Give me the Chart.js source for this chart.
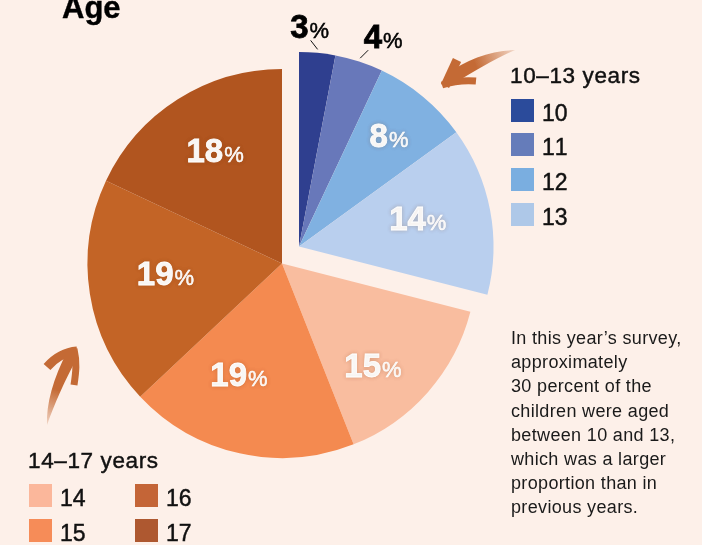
<!DOCTYPE html>
<html>
<head>
<meta charset="utf-8">
<script src="https://cdn.jsdelivr.net/npm/chart.js@4"></script>
<style>
html,body{margin:0;padding:0;background:#fdf0e9;}
body{width:702px;height:545px;position:relative;overflow:hidden;font-family:"Liberation Sans",sans-serif;color:#111;}
canvas{position:absolute;left:0;top:0;}
.t{position:absolute;white-space:nowrap;}
.sw{position:absolute;width:23px;height:23px;}
#title{font-size:31px;font-weight:700;color:#000;-webkit-text-stroke:.4px #000;}
.h{font-size:22.5px;-webkit-text-stroke:.45px #111;letter-spacing:.62px;}
.l{font-size:23px;-webkit-text-stroke:.45px #111;font-kerning:none;}
#note{position:absolute;left:511px;top:326px;font-size:18px;line-height:24.2px;letter-spacing:.34px;color:#1a1a1a;white-space:pre;}
svg{position:absolute;left:0;top:0;}
</style>
</head>
<body>
<canvas id="c" width="702" height="545"></canvas>
<svg width="702" height="545">
<defs>
<filter id="b"><feGaussianBlur stdDeviation=".6"/></filter>
<linearGradient id="g1" gradientUnits="userSpaceOnUse" x1="515" y1="50" x2="475" y2="64"><stop offset="0" stop-color="#c46a35" stop-opacity=".2"/><stop offset="1" stop-color="#c46a35"/></linearGradient>
<linearGradient id="g2" gradientUnits="userSpaceOnUse" x1="47" y1="425" x2="58" y2="390"><stop offset="0" stop-color="#c46a35" stop-opacity=".2"/><stop offset="1" stop-color="#c46a35"/></linearGradient>
</defs>
<g filter="url(#b)" fill="none" stroke="#c46a35" stroke-linecap="butt">
<path stroke-width="9" d="M445 86 L457 60"/>
<path stroke-width="7" d="M442 85 C454 81 465 80 476 81"/>
<path fill="url(#g1)" stroke="none" d="M515 50 C490 51 466 59 446 75 L454 84 C472 72 495 59 515 50Z"/>
<path stroke-width="9" d="M77 351 C65 352 54 359 47 367"/>
<path stroke-width="7" d="M74 349 C77 362 76 372 74 385"/>
<path fill="url(#g2)" stroke="none" d="M47 425 C46 405 53 378 68 350 L77 358 C65 380 54 405 47 425Z"/>
</g>
</svg>
<div id="html"></div>
<script>
const categories = ['10','11','12','13','14','15','16','17'];
const values = [3,4,8,14,15,19,19,18];
const sliceColors = ['#2f3f8f','#6878ba','#80b1e1','#b9cfee','#f9bd9f','#f48a50','#c36426','#b1551f'];
const swatchColors = ['#2b4b9b','#657cba','#7aaee0','#aec8e8','#fbb79b','#f68c58','#c46537','#ae5830'];
const groupBlue = [0,1,2,3];
const titleText = 'Age';
const groupTitles = ['10–13 years','14–17 years'];
const noteLines = ['In this year’s survey,','approximately','30 percent of the','children were aged','between 10 and 13,','which was a larger','proportion than in','previous years.'];

// style offsets
const blueShift = {x:17,y:-17};
const labelRadius = [null,null,143,122,137,119,117,131];
const labelNudgeDeg = [0,0,-0.6,-2.4,7,8.6,4,1.7];

const numFont='700 33px "Liberation Sans"';
const pctFont='400 22px "Liberation Sans"';

const grouped = {
  id:'grouped',
  afterDatasetsUpdate(chart){
    chart.getDatasetMeta(0).data.forEach((a,i)=>{
      if(groupBlue.includes(i)){a.x+=blueShift.x;a.y+=blueShift.y;}
    });
  },
  afterDatasetsDraw(chart){
    const ctx=chart.ctx, arcs=chart.getDatasetMeta(0).data;
    const ds=chart.data.datasets[0].data;
    ctx.save();
    ctx.textBaseline='alphabetic';
    arcs.forEach((a,i)=>{
      const mid=(a.startAngle+a.endAngle)/2;
      let cx,cy,col='#fff';
      if(labelRadius[i]!==null){
        const ang=mid+labelNudgeDeg[i]*Math.PI/180;
        cx=a.x+Math.cos(ang)*labelRadius[i];
        cy=a.y+Math.sin(ang)*labelRadius[i];
      } else {
        col='#000';
        const ex=a.x+Math.cos(mid)*198, ey=a.y+Math.sin(mid)*198;
        const d = i===0 ? {lx:-7,ly:-9,ox:-8,oy:-23} : {lx:8,ly:-8,ox:23,oy:-22};
        ctx.strokeStyle='#111';ctx.lineWidth=1;
        ctx.beginPath();ctx.moveTo(ex,ey);ctx.lineTo(ex+d.lx,ey+d.ly);ctx.stroke();
        cx=ex+d.ox;cy=ey+d.oy;
      }
      const num=String(ds[i]);
      ctx.font=numFont;
      const w1=ctx.measureText(num).width;
      ctx.font=pctFont;
      const w2=ctx.measureText('%').width;
      const x0=cx-(w1+w2+1)/2, by=cy+11.5;
      if(col==='#fff'){ctx.shadowColor='rgba(120,60,20,.22)';ctx.shadowBlur=4;}
      ctx.fillStyle=col;ctx.strokeStyle=col;
      ctx.font=numFont;ctx.lineWidth=.8;
      ctx.fillText(num,x0,by);ctx.strokeText(num,x0,by);
      ctx.font=pctFont;ctx.lineWidth=.5;
      ctx.fillText('%',x0+w1+1,by);ctx.strokeText('%',x0+w1+1,by);
      ctx.shadowBlur=0;
    });
    ctx.restore();
  }
};

new Chart(document.getElementById('c'),{
  type:'pie',
  data:{labels:categories,datasets:[{data:values,backgroundColor:sliceColors,borderWidth:0}]},
  options:{
    responsive:false,animation:false,radius:194.5,rotation:0,
    layout:{padding:{left:0,top:0,right:138,bottom:18}},
    plugins:{legend:{display:false},tooltip:{enabled:false}}
  },
  plugins:[grouped]
});

// HTML text and legend keys
const root=document.getElementById('html');
function add(cls,txt,x,y,id){const d=document.createElement('div');d.className='t '+cls;d.textContent=txt;d.style.left=x+'px';d.style.top=y+'px';if(id)d.id=id;root.appendChild(d);return d;}
add('',titleText,62,-10,'title');
add('h',groupTitles[0],510,63);
add('h',groupTitles[1],28,448);
const keyPos=[[511,99],[511,133],[511,168],[511,203],[29,484],[29,519],[135,484],[135,519]];
categories.forEach((c,i)=>{
  const s=document.createElement('div');s.className='sw';s.style.left=keyPos[i][0]+'px';s.style.top=keyPos[i][1]+'px';s.style.background=swatchColors[i];root.appendChild(s);
  add('l',c,keyPos[i][0]+31,keyPos[i][1]+0.5);
});
const n=document.createElement('div');n.id='note';n.textContent=noteLines.join('\n');root.appendChild(n);
</script>
</body>
</html>
